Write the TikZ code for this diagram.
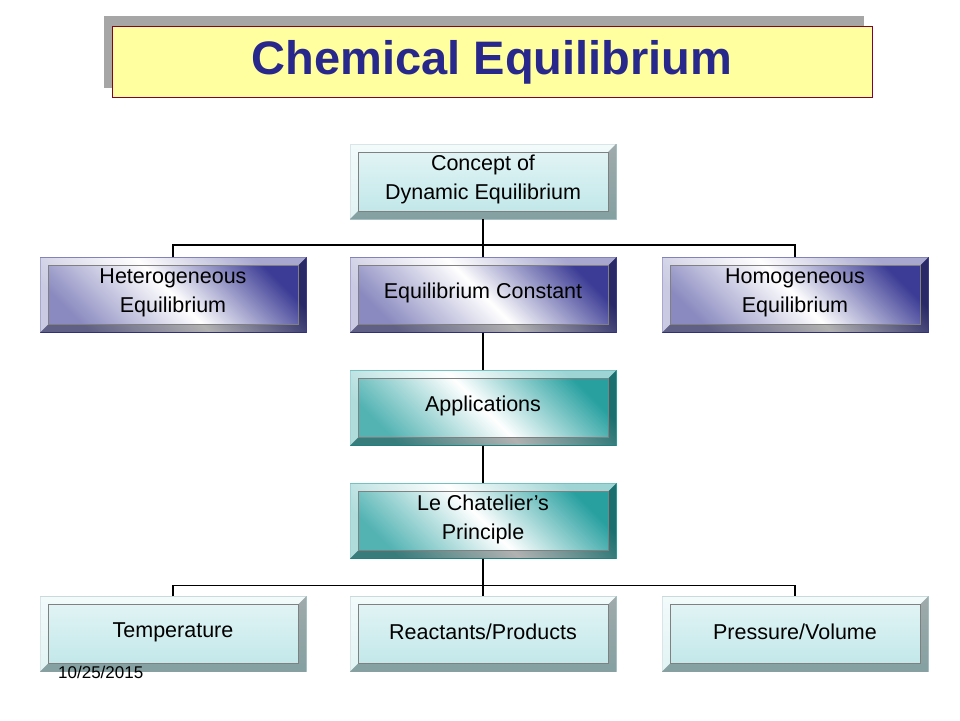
\documentclass[tikz,border=0pt]{standalone}
\usepackage{fontspec}
\setmainfont{Liberation Sans}
\definecolor{tblue}{RGB}{40,40,140}
\definecolor{tyell}{RGB}{255,255,160}
\definecolor{bcyan}{RGB}{190,230,232}
\definecolor{bblue}{RGB}{60,60,150}
\definecolor{bteal}{RGB}{40,160,160}
\tikzset{
  bx/.style={minimum width=266pt,minimum height=75pt,inner sep=0pt,align=center,font=\fontsize{21.5}{29}\selectfont},
  cyanbox/.style={bx,draw=bcyan!70!gray,shading=axis,top color=bcyan!40,bottom color=bcyan,shading angle=0},
  bluebox/.style={bx,draw=bblue,shade,left color=bblue,right color=bblue!60,middle color=white,shading angle=-45},
  tealbox/.style={bx,draw=bteal,shade,left color=bteal,right color=bteal!80,middle color=white,shading angle=-45},
  conn/.style={line width=1.5pt,black}
}
\newcommand{\bev}[1]{%
  \fill[white,opacity=0.55] (#1.north west) -- (#1.north east) -- ([shift={(-8pt,-8pt)}]#1.north east) -- ([shift={(8pt,-8pt)}]#1.north west) -- ([shift={(8pt,8pt)}]#1.south west) -- (#1.south west) -- cycle;
  \fill[black,opacity=0.3] (#1.south east) -- (#1.north east) -- ([shift={(-8pt,-8pt)}]#1.north east) -- ([shift={(-8pt,8pt)}]#1.south east) -- ([shift={(8pt,8pt)}]#1.south west) -- (#1.south west) -- cycle;
  \draw[black!50,line width=0.6pt] ([shift={(8pt,-8pt)}]#1.north west) rectangle ([shift={(-8pt,8pt)}]#1.south east);
}
\begin{document}
\begin{tikzpicture}[x=1pt,y=-1pt]
\useasboundingbox[fill=white] (0,0) rectangle (960,720);
\fill[gray!70] (104,16) rectangle (864,88);
\node[draw=purple!70!black,fill=tyell,minimum width=760pt,minimum height=71pt,inner sep=0pt,text=tblue,font=\fontsize{47}{50}\selectfont\bfseries] (title) at (492,62) {Chemical Equilibrium};
\node[cyanbox] (concept) at (483,181.5) {};
\node[bluebox] (hetero) at (173,295) {};
\node[bluebox] (const) at (483,295) {};
\node[bluebox] (homo) at (795,295) {};
\node[tealbox] (app) at (483,408) {};
\node[tealbox] (lech) at (483,521) {};
\node[cyanbox] (temp) at (173,634) {};
\node[cyanbox] (react) at (483,634) {};
\node[cyanbox] (press) at (795,634) {};
\foreach \n in {concept,hetero,const,homo,app,lech,temp,react,press} {\bev{\n}}
\node[bx] at ([yshift=2pt]concept) {Concept of\\Dynamic Equilibrium};
\node[bx] at ([yshift=2pt]hetero) {Heterogeneous\\Equilibrium};
\node[bx] at ([yshift=2pt]const) {Equilibrium Constant};
\node[bx] at ([yshift=2pt]homo) {Homogeneous\\Equilibrium};
\node[bx] at ([yshift=2pt]app) {Applications};
\node[bx] at ([yshift=2pt]lech) {Le Chatelier’s\\Principle};
\node[bx] at ([yshift=2pt]temp) {Temperature};
\node[bx] at ([yshift=2pt]react) {Reactants/Products};
\node[bx] at ([yshift=2pt]press) {Pressure/Volume};
\draw[conn] (concept.south) -- ++(0,26) coordinate (j1);
\draw[conn] (hetero.north) |- (j1) -| (homo.north);
\draw[conn] (j1) -- (const.north);
\draw[conn] (const) -- (app);
\draw[conn] (app) -- (lech);
\draw[conn] (lech.south) -- ++(0,27) coordinate (j2);
\draw[conn] (temp.north) |- (j2) -| (press.north);
\draw[conn] (j2) -- (react.north);
\node[anchor=west,font=\fontsize{17}{18}\selectfont,inner sep=0pt] (date) at (58,672) {10/25/2015};
\end{tikzpicture}
\end{document}
